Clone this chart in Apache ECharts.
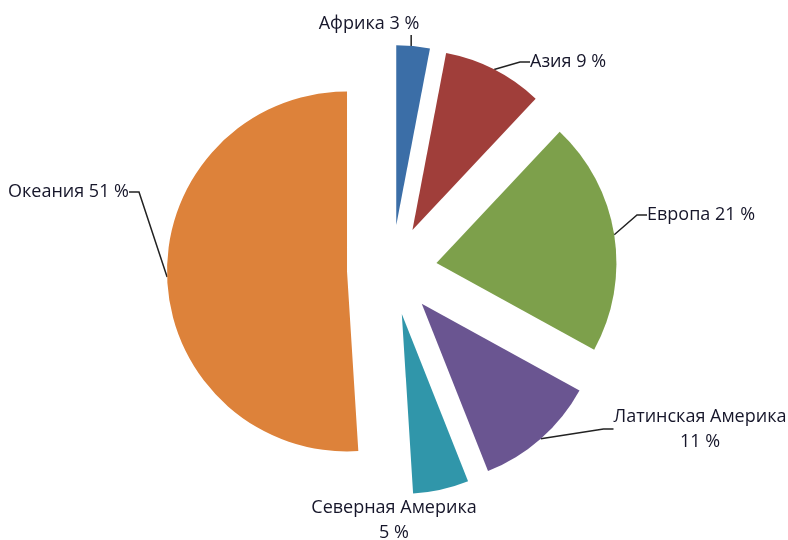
<!DOCTYPE html>
<html>
<head>
<meta charset="utf-8">
<script src="https://cdn.jsdelivr.net/npm/echarts@6/dist/echarts.min.js"></script>
<style>
    html, body {margin: 0; padding: 0; background: #fff;}
    #chart {width: 788px; height: 540px;}
</style>
</head>
<body>
<div id="chart"></div>
<script>
var regions = ["Африка", "Азия", "Европа", "Латинская Америка", "Северная Америка", "Океания"];
var shares = [3, 9, 21, 11, 5, 51];
var labelTexts = ["Африка 3 %", "Азия 9 %", "Европа 21 %", "Латинская Америка\n11 %", "Северная Америка\n5 %", "Океания 51 %"];

var colors = ["#3b6ea7", "#a03e3a", "#7da04b", "#6a5591", "#3096aa", "#dd823a"];
// where each label sits: [x, y, align]
var labelPos = [
    [369, 24, "center"],
    [530, 62, "left"],
    [647, 215, "left"],
    [700, 429, "center"],
    [394, 520, "center"],
    [129, 192, "right"]
];

var pieCenter = [392, 270];
var pieRadius = 180;
var explode = 45;

var chart = echarts.init(document.getElementById("chart"));

var total = 0;
for (var k = 0; k < shares.length; k++) total += shares[k];

// every slice is its own pie, shifted outward along its middle angle
var series = [];
var outerPts = [];
var cum = 0;
for (var i = 0; i < regions.length; i++) {
    var mid = (cum + shares[i] / 2) / total * 2 * Math.PI;
    cum += shares[i];
    var c = [pieCenter[0] + explode * Math.sin(mid), pieCenter[1] - explode * Math.cos(mid)];
    outerPts.push([c[0] + pieRadius * Math.sin(mid), c[1] - pieRadius * Math.cos(mid)]);
    var data = [];
    for (var j = 0; j < regions.length; j++) {
        if (j == i) {
            data.push({
                name: regions[j],
                value: shares[j],
                itemStyle: {color: colors[j]},
                label: {show: true, formatter: labelTexts[j]},
                labelLine: {show: j != 4}
            });
        } else {
            data.push({
                name: regions[j],
                value: shares[j],
                itemStyle: {opacity: 0},
                label: {show: false},
                labelLine: {show: false}
            });
        }
    }
    series.push({
        type: 'pie',
        center: c,
        radius: pieRadius,
        startAngle: 90,
        clockwise: true,
        silent: true,
        avoidLabelOverlap: false,
        emphasis: {disabled: true},
        itemStyle: {borderWidth: 0},
        label: {
            position: 'outside',
            color: '#16162a',
            fontFamily: 'Open Sans',
            fontSize: 18,
            lineHeight: 25,
            align: 'center'
        },
        labelLine: {
            length: 10,
            length2: 10,
            lineStyle: {color: '#222', width: 1.5}
        },
        labelLayout: function (params) {
            var p = labelPos[params.dataIndex];
            var res = {
                x: p[0],
                y: p[1],
                align: p[2],
                verticalAlign: 'middle'
            };
            if (params.dataIndex == 0) {
                // Африка: straight leader from the top of the slice up to the label
                var o = outerPts[0];
                var lx = o[0] - 2;
                res.labelLinePoints = [[lx, o[1] + 3], [lx, o[1] - 4], [lx, p[1] + 11]];
            }
            return res;
        },
        data: data
    });
}

chart.setOption({
    animation: false,
    series: series
});
</script>
</body>
</html>
